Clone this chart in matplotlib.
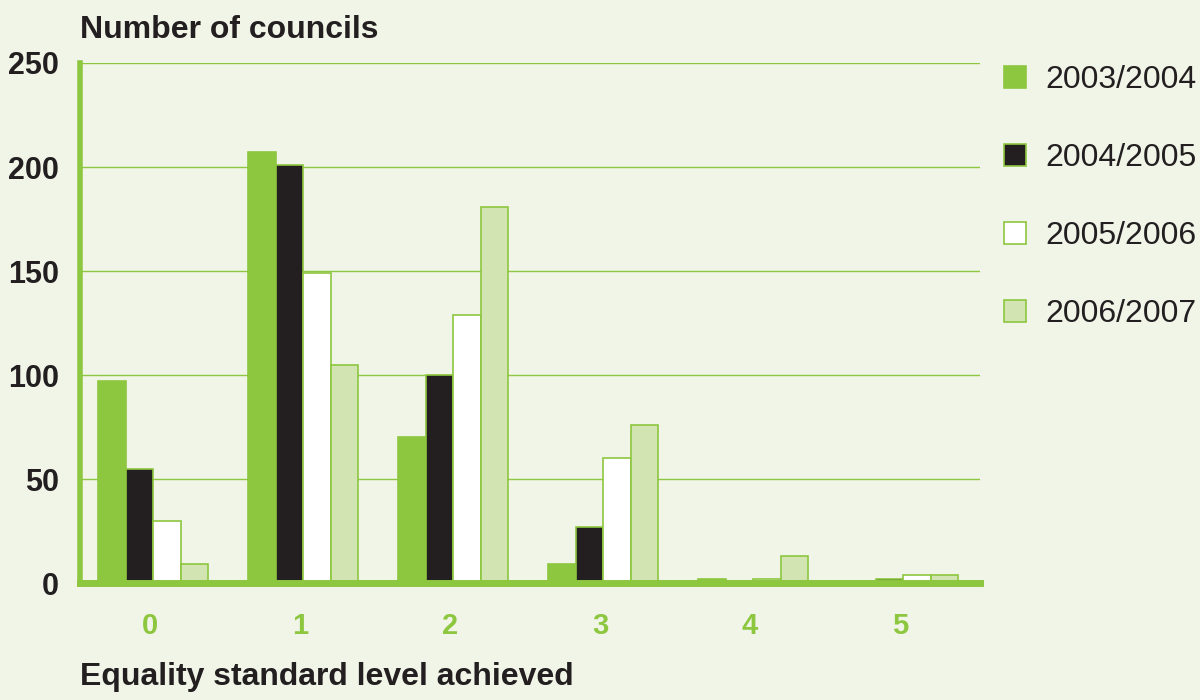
import numpy as np
import matplotlib.pyplot as plt
from matplotlib.patches import Patch

plt.rcParams['font.family'] = ['Liberation Sans', 'DejaVu Sans']

levels = [0, 1, 2, 3, 4, 5]
years = ['2003/2004', '2004/2005', '2005/2006', '2006/2007']
v2003 = [97, 207, 70, 9, 2, 0]
v2004 = [55, 201, 100, 27, 1, 2]
v2005 = [30, 149, 129, 60, 2, 4]
v2006 = [9, 105, 181, 76, 13, 4]

green = '#8dc63f'
dark = '#231f20'
light = '#d3e4b3'
bg = '#f1f5e8'

fig = plt.figure(figsize=(12, 7), dpi=100, facecolor=bg)
ax = fig.add_axes([0.0667, 0.167, 0.75, 0.743], facecolor=bg)

x = np.arange(len(levels))
w = 0.183
series = [v2003, v2004, v2005, v2006]
faces = [green, dark, 'white', light]
for i, (vals, fc) in enumerate(zip(series, faces)):
    ax.bar(x + (i - 1.5) * w + 0.02, vals, w, color=fc, edgecolor=green,
           linewidth=1.2, zorder=3)

ax.set_xlim(-0.467, 5.533)
ax.set_ylim(0, 250)
ax.set_yticks([0, 50, 100, 150, 200, 250])
ax.set_xticks(x)
ax.set_xticklabels([str(l) for l in levels], color=green, fontsize=21,
                   fontweight='bold')
ax.tick_params(axis='y', labelsize=22, length=0, pad=15)
ax.tick_params(axis='x', length=0, pad=21)
for lab in ax.get_yticklabels():
    lab.set_fontweight('bold')
    lab.set_color(dark)

ax.grid(axis='y', color=green, linewidth=1, zorder=0)
for s in ['top', 'right']:
    ax.spines[s].set_visible(False)
ax.spines['left'].set_color(green)
ax.spines['left'].set_linewidth(4)
ax.spines['bottom'].set_color(green)
ax.spines['bottom'].set_linewidth(5)
ax.spines['bottom'].set_zorder(4)

fig.text(0.0667, 0.945, 'Number of councils', fontsize=23, fontweight='bold',
         color=dark, va='baseline')
fig.text(0.0667, 0.021, 'Equality standard level achieved', fontsize=23,
         fontweight='bold', color=dark, va='baseline')

handles = [Patch(facecolor=fc, edgecolor=green, linewidth=1.2) for fc in faces]
leg = fig.legend(handles, years, loc='upper left', bbox_to_anchor=(0.826, 0.925),
                 frameon=False, fontsize=23, handlelength=0.7, handleheight=0.7,
                 handletextpad=0.6, labelspacing=1.5, borderaxespad=0)
for t in leg.get_texts():
    t.set_color(dark)

fig.savefig('out.png', dpi=100, facecolor=bg)
